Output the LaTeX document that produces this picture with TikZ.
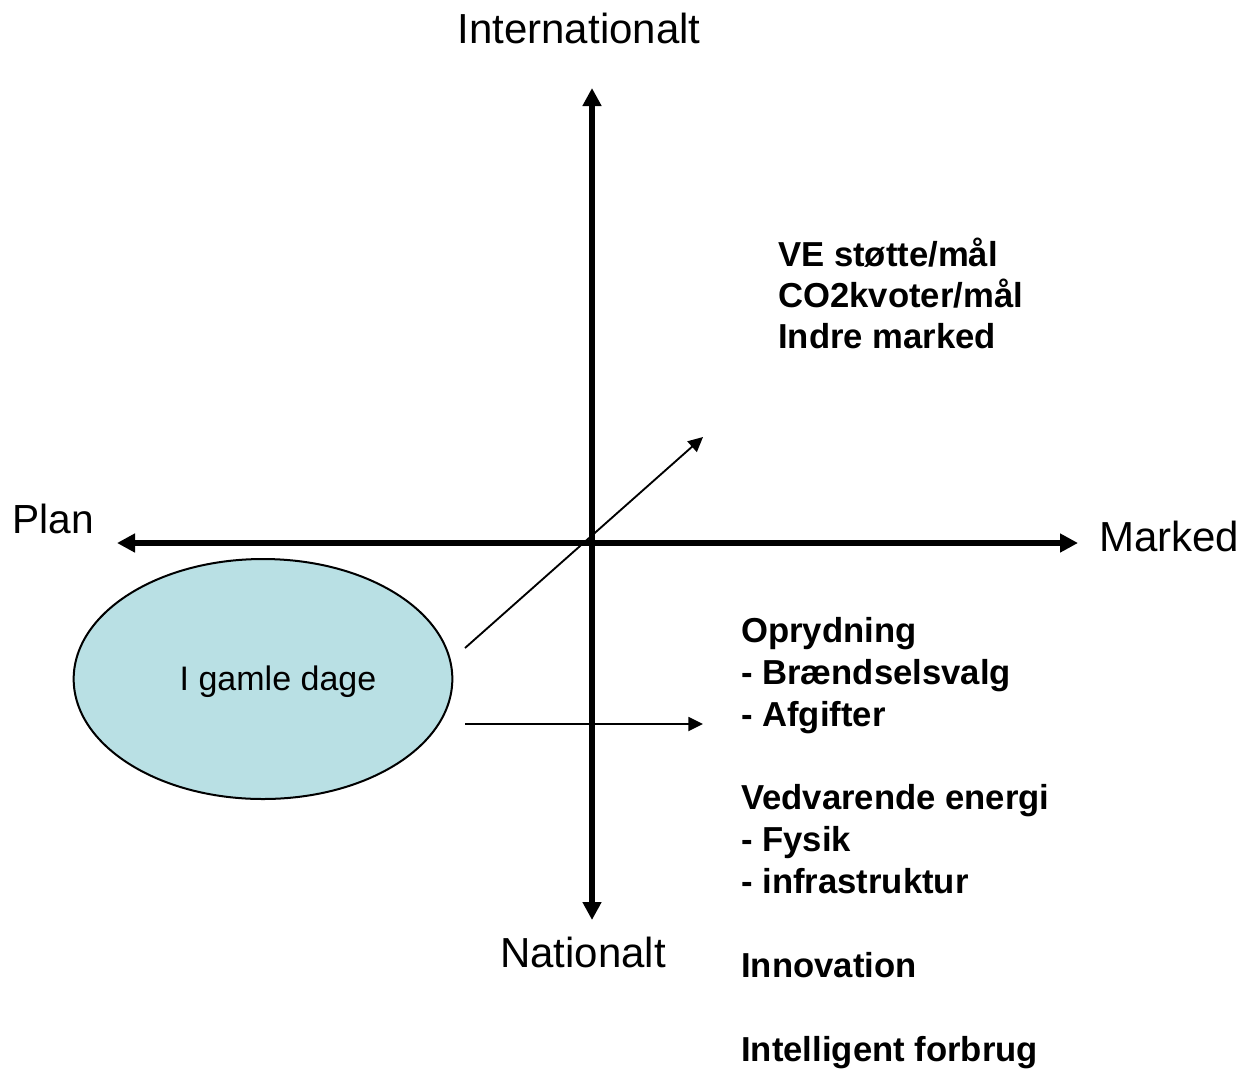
\documentclass[tikz,border=0pt]{standalone}
\usepackage{fontspec}
\setmainfont{Liberation Sans}
\usetikzlibrary{arrows.meta,shapes.geometric}
\definecolor{eracyan}{RGB}{185,224,228}

\begin{document}
\begin{tikzpicture}[x=0.75pt,y=-0.75pt,
    axis/.style={line width=3.9pt,{Triangle[length=13.5pt,width=13.5pt]}-{Triangle[length=13.5pt,width=13.5pt]}},
    move/.style={line width=1.4pt,-{Triangle[length=11pt,width=10.5pt]}},
    axislabel/.style={inner sep=0pt,font=\fontsize{31.5}{38}\selectfont},
    points/.style={inner sep=0pt,align=left,anchor=base west,font=\bfseries\fontsize{26}{31.4}\selectfont},
    oldera/.style={ellipse,draw,line width=1.5pt,fill=eracyan,minimum width=284pt,minimum height=180pt,inner sep=0pt}]
  \useasboundingbox (0,0) rectangle (1241,1068);
  \coordinate (top) at (592,88);
  \coordinate (bottom) at (592,920);
  \coordinate (left) at (117,543);
  \coordinate (right) at (1078,543);
  \node[oldera] (old) at (263,679) {};
  \node[inner sep=0pt,anchor=base,font=\fontsize{25.5}{30}\selectfont] (oldtxt) at (278,690) {I gamle dage};
  \draw[axis] (bottom) -- (top);
  \draw[axis] (left) -- (right);
  \node[axislabel,anchor=base] (intl) at (579,43) {Internationalt};
  \node[axislabel,anchor=base] (natl) at (583,967) {Nationalt};
  \node[axislabel,anchor=base west,font=\fontsize{30.5}{36}\selectfont] (plan) at (12,533) {Plan};
  \node[axislabel,anchor=base west] (marked) at (1099,551) {Marked};
  \coordinate (diagstart) at (465,648);
  \coordinate (diagend) at (703,437);
  \coordinate (flatstart) at (465,724);
  \coordinate (flatend) at (703,724);
  \draw[move] (diagstart) -- (diagend);
  \draw[move] (flatstart) -- (flatend);
  \node[points,font=\bfseries\fontsize{26}{30.4}\selectfont] (eu) at (778,348) {VE støtte/mål\\CO2kvoter/mål\\Indre marked};
  \node[points] (dk) at (741,1061) {Oprydning\\- Brændselsvalg\\- Afgifter\\[31.4pt]Vedvarende energi\\- Fysik\\- infrastruktur\\[31.4pt]Innovation\\[31.4pt]Intelligent forbrug};
\end{tikzpicture}
\end{document}
